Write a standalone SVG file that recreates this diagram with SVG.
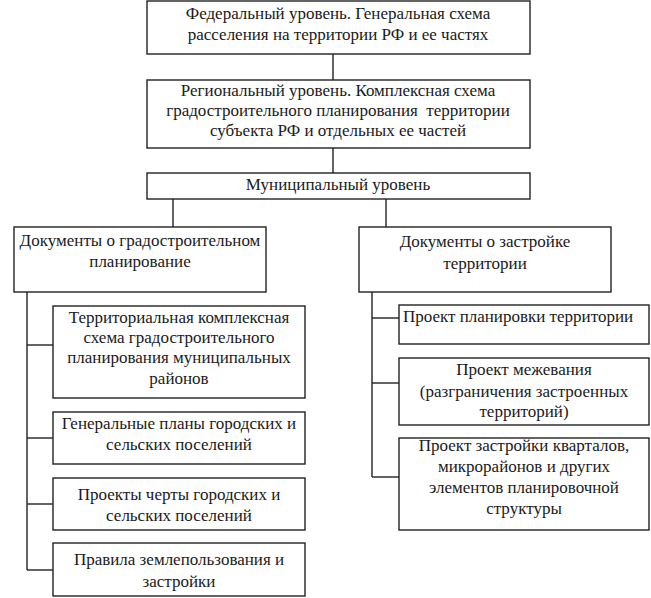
<svg xmlns="http://www.w3.org/2000/svg" width="651" height="598" viewBox="0 0 651 598">
<style>
rect{fill:#fff;stroke:#222;stroke-width:1.4}
.c line{stroke:#222;stroke-width:1.4}
text{font-family:"Liberation Serif","Times New Roman",serif;font-size:17px;fill:#1a1a1a;text-anchor:middle}
</style>
<rect x="0" y="0" width="651" height="598" style="stroke:none"/>
<g class="c" id="connectors">
<line x1="333" y1="54" x2="333" y2="80"/>
<line x1="333" y1="148" x2="333" y2="173"/>
<line x1="173" y1="199" x2="173" y2="227"/>
<line x1="386" y1="199" x2="386" y2="227"/>
<line x1="27" y1="292" x2="27" y2="570"/>
<line x1="27" y1="345" x2="53" y2="345"/>
<line x1="27" y1="438" x2="53" y2="438"/>
<line x1="27" y1="504" x2="53" y2="504"/>
<line x1="27" y1="570" x2="53" y2="570"/>
<line x1="372" y1="292" x2="372" y2="477"/>
<line x1="372" y1="318" x2="399" y2="318"/>
<line x1="372" y1="383" x2="399" y2="383"/>
<line x1="372" y1="477" x2="399" y2="477"/>
</g>
<g id="federal">
<rect x="147" y="1" width="383" height="53"/>
<text x="338" y="19">Федеральный уровень. Генеральная схема</text>
<text x="338" y="40">расселения на территории РФ и ее частях</text>
</g>
<g id="regional">
<rect x="147" y="80" width="383" height="68"/>
<text x="338" y="96">Региональный уровень. Комплексная схема</text>
<text x="338" y="116" xml:space="preserve" style="white-space:pre">градостроительного планирования  территории</text>
<text x="338" y="136">субъекта РФ и отдельных ее частей</text>
</g>
<g id="municipal">
<rect x="147" y="173" width="383" height="26"/>
<text x="338" y="190">Муниципальный уровень</text>
</g>
<g id="docs-planning">
<rect x="14" y="227" width="252" height="65"/>
<text x="140" y="246">Документы о градостроительном</text>
<text x="140" y="267">планирование</text>
</g>
<g id="docs-building">
<rect x="359" y="227" width="252" height="65"/>
<text x="485" y="247">Документы о застройке</text>
<text x="485" y="269">территории</text>
</g>
<g id="l1">
<rect x="53" y="306" width="252" height="92"/>
<text x="179" y="323">Территориальная комплексная</text>
<text x="179" y="343">схема градостроительного</text>
<text x="179" y="363">планирования муниципальных</text>
<text x="179" y="384">районов</text>
</g>
<g id="l2">
<rect x="53" y="412" width="252" height="52"/>
<text x="179" y="429">Генеральные планы городских и</text>
<text x="179" y="450">сельских поселений</text>
</g>
<g id="l3">
<rect x="53" y="478" width="252" height="52"/>
<text x="179" y="500">Проекты черты городских и</text>
<text x="179" y="521">сельских поселений</text>
</g>
<g id="l4">
<rect x="53" y="543" width="252" height="53"/>
<text x="179" y="565">Правила землепользования и</text>
<text x="179" y="587">застройки</text>
</g>
<g id="r1">
<rect x="399" y="305" width="250" height="39"/>
<text x="518" y="322">Проект планировки территории</text>
</g>
<g id="r2">
<rect x="399" y="358" width="250" height="67"/>
<text x="524" y="375">Проект межевания</text>
<text x="524" y="397">(разграничения застроенных</text>
<text x="524" y="417">территорий)</text>
</g>
<g id="r3">
<rect x="399" y="438" width="250" height="92"/>
<text x="524" y="451">Проект застройки кварталов,</text>
<text x="524" y="472">микрорайонов и других</text>
<text x="524" y="493">элементов планировочной</text>
<text x="524" y="514">структуры</text>
</g>
</svg>
